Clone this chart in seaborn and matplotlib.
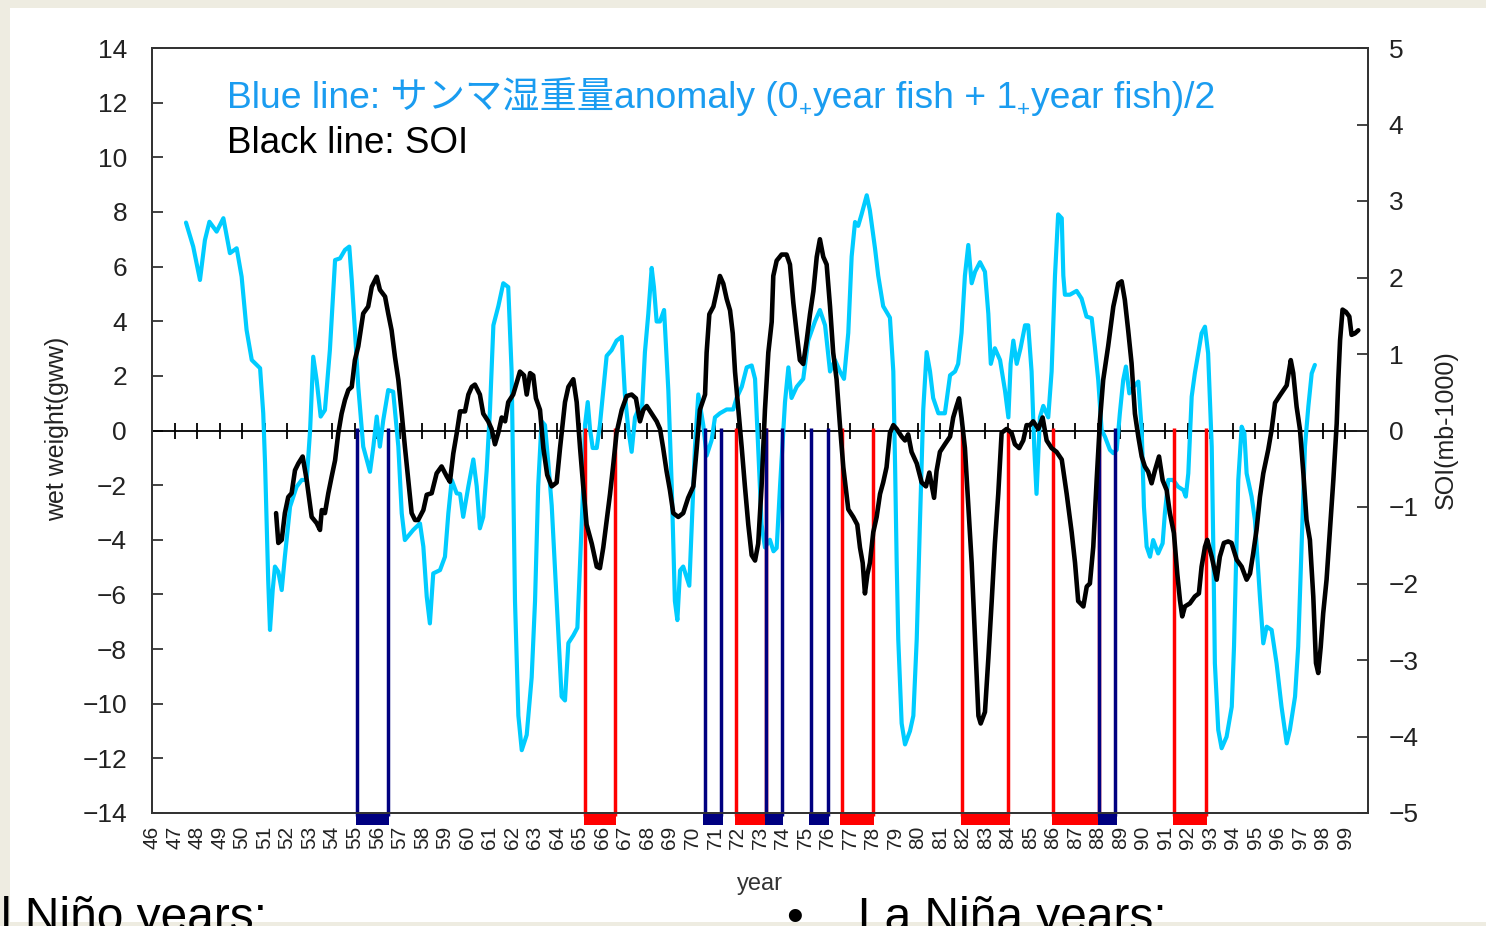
import matplotlib
matplotlib.use("Agg")
import matplotlib.pyplot as plt
from matplotlib.patches import Rectangle
from matplotlib.transforms import IdentityTransform
import seaborn as sns

# ---------------- data ----------------
year_ticks = list(range(1946, 2000))
year_labels = [f"{y % 100:02d}" for y in year_ticks]
left_ticks = list(range(-14, 15, 2))
right_ticks = list(range(-5, 6))

# Blue line: saury wet-weight anomaly (left axis, gww)
blue_years = [1947.51, 1947.83, 1948.13, 1948.35, 1948.55, 1948.87, 1949.17, 1949.46, 1949.76, 1949.98,
              1950.20, 1950.43, 1950.80, 1950.94, 1951.02, 1951.09, 1951.16, 1951.24, 1951.36, 1951.46,
              1951.61, 1951.76, 1951.90, 1952.13, 1952.42, 1952.65, 1952.87, 1953.02, 1953.16, 1953.31,
              1953.49, 1953.68, 1953.90, 1954.13, 1954.35, 1954.57, 1954.76, 1954.87, 1955.01, 1955.16,
              1955.38, 1955.68, 1955.83, 1955.98, 1956.12, 1956.27, 1956.49, 1956.71, 1956.94, 1957.09,
              1957.23, 1957.60, 1957.90, 1958.05, 1958.20, 1958.34, 1958.49, 1958.79, 1959.01, 1959.16,
              1959.31, 1959.53, 1959.68, 1959.82, 1960.05, 1960.27, 1960.42, 1960.56, 1960.71, 1960.86,
              1961.01, 1961.16, 1961.38, 1961.60, 1961.82, 1961.97, 1962.04, 1962.12, 1962.27, 1962.42,
              1962.64, 1962.86, 1963.01, 1963.15, 1963.30, 1963.45, 1963.60, 1963.75, 1963.97, 1964.19,
              1964.34, 1964.49, 1964.71, 1964.89, 1965.01, 1965.15, 1965.23, 1965.35, 1965.45, 1965.57,
              1965.75, 1965.89, 1966.04, 1966.19, 1966.41, 1966.63, 1966.86, 1967.00, 1967.15, 1967.30,
              1967.45, 1967.60, 1967.75, 1967.89, 1968.04, 1968.19, 1968.29, 1968.41, 1968.56, 1968.74,
              1968.93, 1969.08, 1969.22, 1969.33, 1969.45, 1969.59, 1969.86, 1969.97, 1970.11, 1970.26,
              1970.48, 1970.63, 1970.85, 1971.00, 1971.22, 1971.52, 1971.81, 1971.96, 1972.19, 1972.41,
              1972.63, 1972.78, 1972.92, 1973.07, 1973.22, 1973.44, 1973.60, 1973.74, 1973.89, 1974.11,
              1974.26, 1974.40, 1974.63, 1974.92, 1975.14, 1975.44, 1975.66, 1975.89, 1976.11, 1976.33,
              1976.55, 1976.73, 1976.92, 1977.07, 1977.22, 1977.36, 1977.51, 1977.74, 1977.88, 1978.11,
              1978.25, 1978.47, 1978.77, 1978.92, 1979.00, 1979.07, 1979.14, 1979.29, 1979.44, 1979.66,
              1979.81, 1979.96, 1980.10, 1980.25, 1980.40, 1980.55, 1980.69, 1980.92, 1981.21, 1981.44,
              1981.66, 1981.80, 1981.95, 1982.10, 1982.25, 1982.40, 1982.55, 1982.77, 1982.99, 1983.14,
              1983.25, 1983.43, 1983.66, 1983.88, 1984.03, 1984.13, 1984.25, 1984.40, 1984.57, 1984.77,
              1984.91, 1985.06, 1985.18, 1985.28, 1985.43, 1985.58, 1985.80, 1985.95, 1986.10, 1986.24,
              1986.40, 1986.47, 1986.54, 1986.76, 1987.06, 1987.28, 1987.50, 1987.73, 1987.87, 1988.02,
              1988.17, 1988.32, 1988.54, 1988.69, 1988.84, 1988.98, 1989.13, 1989.25, 1989.40, 1989.58,
              1989.80, 1989.95, 1990.05, 1990.17, 1990.32, 1990.46, 1990.68, 1990.88, 1990.98, 1991.13,
              1991.35, 1991.57, 1991.80, 1991.91, 1992.02, 1992.17, 1992.31, 1992.46, 1992.61, 1992.76,
              1992.90, 1993.06, 1993.13, 1993.20, 1993.35, 1993.50, 1993.72, 1993.95, 1994.05, 1994.14,
              1994.24, 1994.39, 1994.51, 1994.61, 1994.83, 1994.98, 1995.20, 1995.35, 1995.50, 1995.72,
              1995.94, 1996.16, 1996.39, 1996.53, 1996.76, 1996.90, 1997.05, 1997.20, 1997.35, 1997.50,
              1997.64]
blue_values = [7.61, 6.73, 5.51, 6.97, 7.64, 7.28, 7.77, 6.49, 6.67, 5.63,
               3.68, 2.58, 2.28, 0.63, -1.19, -3.39, -5.47, -7.30, -5.84, -4.98,
               -5.17, -5.84, -4.62, -2.79, -2.06, -1.81, -1.81, 0.00, 2.70, 1.85,
               0.51, 0.75, 2.95, 6.24, 6.30, 6.61, 6.73, 5.51, 3.68, 1.60,
               -0.59, -1.51, -0.59, 0.51, -0.59, 0.38, 1.48, 1.42, -0.59, -3.03,
               -4.01, -3.64, -3.40, -4.25, -6.08, -7.06, -5.23, -5.11, -4.62, -3.03,
               -1.81, -2.30, -2.32, -3.16, -2.04, -1.06, -2.04, -3.58, -3.16, -1.48,
               0.77, 3.85, 4.55, 5.39, 5.25, 2.16, -1.76, -6.24, -10.44, -11.70,
               -11.14, -9.04, -6.24, -2.04, 0.34, 0.20, -1.20, -2.74, -6.24, -9.74,
               -9.88, -7.78, -7.50, -7.22, -4.84, -2.04, 0.20, 1.04, 0.06, -0.64,
               -0.64, 0.20, 1.46, 2.73, 2.94, 3.29, 3.43, 1.32, 0.06, -0.78,
               0.48, 0.77, 0.63, 2.87, 4.27, 5.95, 5.25, 3.99, 3.99, 4.41,
               1.46, -2.04, -6.24, -6.94, -5.12, -4.98, -5.68, -3.44, -0.64, 1.32,
               0.20, -0.92, -0.36, 0.48, 0.63, 0.77, 0.77, 1.19, 1.60, 2.31,
               2.38, 1.89, -0.64, -3.44, -4.28, -4.00, -4.42, -4.30, -2.04, 1.04,
               2.31, 1.19, 1.60, 1.89, 3.29, 3.99, 4.41, 3.85, 2.16, 2.58,
               2.16, 1.89, 3.57, 6.37, 7.63, 7.49, 7.91, 8.61, 8.05, 6.65,
               5.67, 4.55, 4.13, 2.16, -1.34, -4.84, -7.64, -10.72, -11.49, -11.00,
               -10.44, -7.64, -3.44, 0.77, 2.87, 2.16, 1.19, 0.63, 0.63, 2.02,
               2.16, 2.44, 3.57, 5.67, 6.79, 5.39, 5.81, 6.16, 5.81, 4.27,
               2.44, 3.01, 2.58, 1.46, 0.48, 2.44, 3.29, 2.44, 3.01, 3.85,
               3.85, 2.16, -0.64, -2.32, 0.48, 0.90, 0.48, 2.16, 5.67, 7.91,
               7.77, 5.67, 4.97, 4.97, 5.11, 4.83, 4.17, 4.11, 3.07, 1.85,
               0.02, -0.23, -0.71, -0.83, -0.71, 0.63, 1.85, 2.34, 1.36, 1.60,
               1.79, 0.02, -2.79, -4.25, -4.62, -4.01, -4.50, -4.13, -3.03, -1.81,
               -1.81, -2.06, -2.18, -2.42, -1.57, 1.24, 2.09, 2.83, 3.56, 3.80,
               2.83, -0.59, -4.25, -8.52, -10.96, -11.63, -11.21, -10.11, -7.91, -4.86,
               -1.81, 0.14, -0.10, -1.57, -2.42, -3.28, -6.08, -7.79, -7.18, -7.30,
               -8.52, -10.11, -11.45, -10.96, -9.74, -7.91, -4.25, -0.59, 0.87, 2.09,
               2.40]

# Black line: SOI (right axis, mb-1000)
soi_years = [1951.51, 1951.61, 1951.76, 1951.90, 1952.05, 1952.20, 1952.35, 1952.50, 1952.69, 1952.87,
             1953.09, 1953.31, 1953.46, 1953.54, 1953.68, 1953.83, 1953.98, 1954.13, 1954.27, 1954.42,
             1954.57, 1954.72, 1954.87, 1955.01, 1955.16, 1955.38, 1955.60, 1955.76, 1955.98, 1956.12,
             1956.35, 1956.49, 1956.64, 1956.79, 1956.94, 1957.09, 1957.23, 1957.38, 1957.53, 1957.68,
             1957.82, 1958.05, 1958.20, 1958.42, 1958.64, 1958.86, 1959.09, 1959.23, 1959.38, 1959.53,
             1959.68, 1959.90, 1960.05, 1960.20, 1960.34, 1960.56, 1960.71, 1960.93, 1961.08, 1961.23,
             1961.38, 1961.53, 1961.68, 1961.82, 1962.04, 1962.19, 1962.34, 1962.52, 1962.64, 1962.79,
             1962.93, 1963.05, 1963.23, 1963.38, 1963.55, 1963.75, 1963.97, 1964.12, 1964.34, 1964.49,
             1964.71, 1964.86, 1965.01, 1965.15, 1965.30, 1965.53, 1965.75, 1965.89, 1966.04, 1966.19,
             1966.34, 1966.49, 1966.63, 1966.86, 1967.08, 1967.30, 1967.49, 1967.67, 1967.82, 1967.97,
             1968.19, 1968.41, 1968.56, 1968.70, 1968.85, 1969.00, 1969.15, 1969.37, 1969.59, 1969.81,
             1970.04, 1970.19, 1970.33, 1970.56, 1970.63, 1970.75, 1970.93, 1971.08, 1971.22, 1971.37,
             1971.52, 1971.67, 1971.79, 1971.89, 1972.04, 1972.19, 1972.33, 1972.48, 1972.63, 1972.78,
             1972.92, 1973.07, 1973.22, 1973.37, 1973.52, 1973.59, 1973.74, 1973.96, 1974.18, 1974.33,
             1974.48, 1974.63, 1974.77, 1974.92, 1975.07, 1975.22, 1975.37, 1975.52, 1975.66, 1975.81,
             1975.96, 1976.11, 1976.25, 1976.40, 1976.55, 1976.70, 1976.92, 1977.14, 1977.32, 1977.44,
             1977.56, 1977.66, 1977.77, 1977.88, 1978.03, 1978.18, 1978.33, 1978.47, 1978.62, 1978.77,
             1978.92, 1979.07, 1979.29, 1979.44, 1979.58, 1979.73, 1979.96, 1980.18, 1980.37, 1980.52,
             1980.73, 1980.84, 1980.99, 1981.21, 1981.44, 1981.58, 1981.73, 1981.84, 1981.95, 1982.10,
             1982.25, 1982.40, 1982.55, 1982.70, 1982.80, 1982.99, 1983.14, 1983.29, 1983.43, 1983.58,
             1983.73, 1983.95, 1984.17, 1984.32, 1984.51, 1984.69, 1984.84, 1984.99, 1985.13, 1985.36,
             1985.55, 1985.73, 1985.95, 1986.17, 1986.40, 1986.62, 1986.84, 1986.99, 1987.13, 1987.36,
             1987.51, 1987.65, 1987.80, 1987.95, 1988.10, 1988.24, 1988.46, 1988.69, 1988.91, 1989.06,
             1989.20, 1989.35, 1989.50, 1989.65, 1989.80, 1989.95, 1990.09, 1990.24, 1990.39, 1990.54,
             1990.72, 1990.88, 1991.06, 1991.20, 1991.38, 1991.53, 1991.65, 1991.75, 1991.87, 1992.09,
             1992.31, 1992.49, 1992.61, 1992.76, 1992.86, 1993.06, 1993.28, 1993.42, 1993.60, 1993.79,
             1993.94, 1994.17, 1994.39, 1994.61, 1994.76, 1994.90, 1995.05, 1995.20, 1995.35, 1995.57,
             1995.72, 1995.87, 1996.09, 1996.39, 1996.57, 1996.68, 1996.83, 1996.98, 1997.13, 1997.27,
             1997.42, 1997.57, 1997.69, 1997.79, 1997.90, 1998.01, 1998.16, 1998.31, 1998.46, 1998.61,
             1998.68, 1998.76, 1998.87, 1999.02, 1999.17, 1999.27, 1999.42, 1999.57]
soi_values = [-1.08, -1.47, -1.43, -1.08, -0.87, -0.82, -0.52, -0.43, -0.34, -0.65,
              -1.13, -1.21, -1.30, -1.04, -1.08, -0.82, -0.60, -0.39, -0.04, 0.22,
              0.40, 0.53, 0.57, 0.92, 1.10, 1.53, 1.62, 1.88, 2.01, 1.84,
              1.75, 1.53, 1.31, 0.96, 0.66, 0.22, -0.21, -0.65, -1.08, -1.17,
              -1.17, -1.04, -0.84, -0.82, -0.56, -0.47, -0.60, -0.67, -0.30, -0.04,
              0.25, 0.25, 0.47, 0.57, 0.60, 0.47, 0.22, 0.12, 0.02, -0.18,
              -0.03, 0.17, 0.12, 0.37, 0.47, 0.62, 0.77, 0.72, 0.47, 0.75,
              0.72, 0.42, 0.27, -0.23, -0.58, -0.73, -0.68, -0.23, 0.37, 0.57,
              0.67, 0.37, -0.23, -0.73, -1.23, -1.48, -1.78, -1.80, -1.53, -1.18,
              -0.83, -0.43, -0.03, 0.27, 0.45, 0.47, 0.42, 0.12, 0.27, 0.32,
              0.22, 0.12, 0.02, -0.23, -0.53, -0.78, -1.08, -1.13, -1.08, -0.88,
              -0.73, -0.23, 0.27, 0.47, 1.02, 1.52, 1.62, 1.82, 2.02, 1.92,
              1.72, 1.57, 1.27, 0.77, 0.27, -0.23, -0.73, -1.23, -1.63, -1.70,
              -1.48, -0.73, 0.27, 1.02, 1.42, 2.02, 2.22, 2.30, 2.30, 2.17,
              1.67, 1.27, 0.92, 0.87, 1.17, 1.52, 1.82, 2.27, 2.50, 2.27,
              2.17, 1.62, 1.02, 0.67, 0.07, -0.48, -1.03, -1.13, -1.23, -1.53,
              -1.73, -2.13, -1.88, -1.73, -1.33, -1.13, -0.83, -0.68, -0.48, -0.03,
              0.07, 0.02, -0.08, -0.13, -0.05, -0.28, -0.43, -0.68, -0.73, -0.55,
              -0.88, -0.53, -0.28, -0.18, -0.08, 0.17, 0.32, 0.42, 0.17, -0.23,
              -0.98, -1.73, -2.73, -3.73, -3.83, -3.68, -2.98, -2.23, -1.48, -0.83,
              -0.03, 0.02, -0.03, -0.18, -0.23, -0.13, 0.07, 0.07, 0.12, 0.02,
              0.17, -0.13, -0.23, -0.28, -0.38, -0.83, -1.33, -1.73, -2.23, -2.30,
              -2.04, -2.00, -1.52, -0.65, 0.14, 0.66, 1.10, 1.62, 1.92, 1.95,
              1.71, 1.31, 0.88, 0.22, -0.08, -0.34, -0.47, -0.54, -0.69, -0.52,
              -0.34, -0.65, -0.78, -1.08, -1.34, -1.87, -2.22, -2.43, -2.30, -2.26,
              -2.17, -2.13, -1.78, -1.52, -1.43, -1.65, -1.95, -1.65, -1.47, -1.45,
              -1.47, -1.69, -1.78, -1.95, -1.87, -1.61, -1.30, -0.87, -0.56, -0.25,
              0.01, 0.36, 0.46, 0.59, 0.92, 0.75, 0.31, 0.01, -0.56, -1.17,
              -1.43, -2.17, -3.04, -3.17, -2.83, -2.39, -1.95, -1.30, -0.65, 0.09,
              0.66, 1.18, 1.58, 1.55, 1.49, 1.25, 1.27, 1.31]

# El Nino (red) and La Nina (navy) periods
el_nino_start = [1965.23, 1971.95, 1976.62, 1981.98, 1986.02, 1991.40]
el_nino_end = [1966.55, 1973.27, 1978.00, 1984.03, 1988.05, 1992.80]
la_nina_start = [1955.12, 1970.55, 1973.27, 1975.25, 1988.05]
la_nina_end = [1956.48, 1971.28, 1973.97, 1976.00, 1988.78]

# ---------------- styling ----------------
W, H = 1486, 926
sns.set_theme(style="white")
plt.rcParams["font.family"] = ["Liberation Sans", "Noto Sans CJK JP", "DejaVu Sans"]
plt.rcParams["axes.unicode_minus"] = True

fig = plt.figure(figsize=(W / 100, H / 100), dpi=100, facecolor="#EEECE1")
fig.patches.append(Rectangle((10 / W, 4 / H), 1, (H - 12) / H, transform=fig.transFigure,
                             facecolor="white", edgecolor="none", zorder=-10))

ax = fig.add_axes([152 / W, 1 - 813 / H, 1216 / W, 765 / H])
ax.set_facecolor("white")
ax.set_xlim(1946, 2000)
ax.set_ylim(-14, 14)

# zero line with year ticks
ax.axhline(0, color="black", lw=1.3, zorder=1.5)
ax.plot(year_ticks[1:], [0] * (len(year_ticks) - 1), ls="none", marker="|",
        ms=11, mew=1.3, color="black", zorder=1.6)

# saury anomaly
sns.lineplot(x=blue_years, y=blue_values, ax=ax, color="#00CCFF", lw=3.0,
             sort=False, estimator=None, zorder=2)

# El Nino / La Nina boxes
def draw_boxes(starts, ends, color):
    for s, e in zip(starts, ends):
        ax.vlines([s, e], -14.1, 0.1, color=color, lw=2.5, zorder=3, clip_on=False)
        ax.fill_between([s - 0.06, e + 0.06], -14.45, -14.05, color=color, lw=0,
                        zorder=3, clip_on=False)

draw_boxes(el_nino_start, el_nino_end, "#FF0000")
draw_boxes(la_nina_start, la_nina_end, "#000080")

ax.set_yticks(left_ticks)
ax.set_xticks(year_ticks)
ax.set_xticklabels(year_labels)
ax.tick_params(axis="y", direction="in", length=8, width=1.2, labelsize=19, pad=18,
               left=True, colors="#222222")
ax.tick_params(axis="x", length=0, pad=9, labelsize=15, labelrotation=90, colors="#222222")
for sp in ax.spines.values():
    sp.set_color("#333333")
    sp.set_linewidth(1.3)

# SOI on twin axis
ax2 = ax.twinx()
ax2.set_ylim(-5, 5)
sns.lineplot(x=soi_years, y=soi_values, ax=ax2, color="black", lw=3.3,
             sort=False, estimator=None, zorder=4)
ax2.set_yticks(right_ticks)
ax2.tick_params(axis="y", direction="in", length=8, width=1.2, labelsize=19, pad=15,
                right=True, colors="#222222")
ax2.set_ylabel("")
for sp in ax2.spines.values():
    sp.set_color("#333333")
    sp.set_linewidth(1.3)
ax.set_ylabel("")
ax.set_xlabel("")

# axis labels
fig.text(57 / W, 1 - 429 / H, "wet weight(gww)", rotation=90, ha="center", va="center",
         fontsize=18, color="#222222")
fig.text(1446 / W, 1 - 430 / H, "SOI(mb-1000)", rotation=90, ha="center", va="center",
         fontsize=18, color="#222222")
fig.text(760 / W, 1 - 884 / H, "year", ha="center", va="center", fontsize=17, color="#333333")

# annotation lines (with small subscript "+")
fig.canvas.draw()
renderer = fig.canvas.get_renderer()
ident = IdentityTransform()

def draw_runs(x_px, base_px, runs, color, size):
    x = x_px
    y = H - base_px
    for txt, sub in runs:
        fs = size * 0.6 if sub else size
        yy = y - (size * 0.22 * 100 / 72 if sub else 0)
        t = fig.text(x, yy, txt, transform=ident, fontsize=fs, color=color, va="baseline",
                     ha="left")
        bb = t.get_window_extent(renderer=renderer)
        x = bb.x1 + (1 if sub else 0)

draw_runs(227, 108, [("Blue line: サンマ湿重量anomaly (0", False), ("+", True),
                     ("year fish + 1", False), ("+", True), ("year fish)/2", False)],
          "#1A9CF0", 26.8)
fig.text(227 / W, 1 - 153 / H, "Black line: SOI", fontsize=26.5, color="black", va="baseline")

# slide text below the chart (cut off by the frame, as in the slide)
fig.text(-31 / W, 1 - 931 / H, "El Niño years:", fontsize=34.5, color="black", va="baseline")
fig.text(786 / W, 1 - 931 / H, "•", fontsize=34.5, color="black", va="baseline")
fig.text(858 / W, 1 - 931 / H, "La Niña years:", fontsize=34.5, color="black", va="baseline")

fig.savefig("out.png", dpi=100, facecolor=fig.get_facecolor())
